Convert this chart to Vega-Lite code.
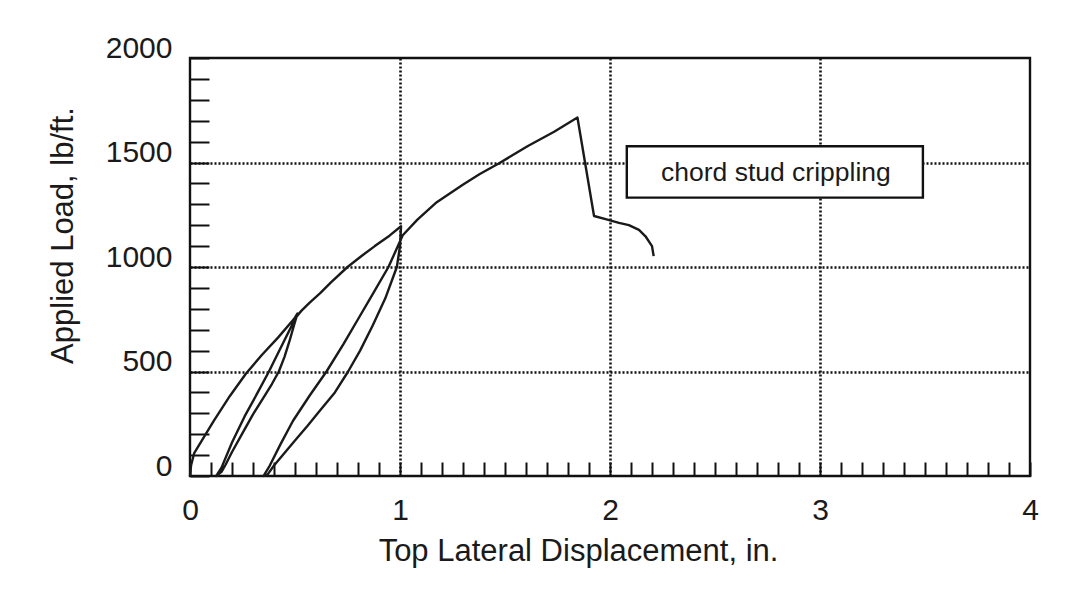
{
  "$schema": "https://vega.github.io/schema/vega-lite/v6.json",
  "width": 840,
  "height": 418,
  "autosize": "none",
  "padding": {"left": 190, "top": 58, "right": 38, "bottom": 134},
  "background": "white",
  "config": {
    "view": {"stroke": "#111", "strokeWidth": 2.4},
    "font": "Liberation Sans"
  },
  "datasets": {
    "curve": [
      {"i": 1, "d": 0, "load": 0},
      {"i": 2, "d": 0.005, "load": 50},
      {"i": 3, "d": 0.02, "load": 110},
      {"i": 4, "d": 0.09, "load": 225},
      {"i": 5, "d": 0.114, "load": 265},
      {"i": 6, "d": 0.19, "load": 383},
      {"i": 7, "d": 0.266, "load": 489},
      {"i": 8, "d": 0.342, "load": 579},
      {"i": 9, "d": 0.419, "load": 662},
      {"i": 10, "d": 0.496, "load": 752},
      {"i": 11, "d": 0.512, "load": 778},
      {"i": 12, "d": 0.495, "load": 720},
      {"i": 13, "d": 0.475, "load": 650},
      {"i": 14, "d": 0.45, "load": 570},
      {"i": 15, "d": 0.423, "load": 500},
      {"i": 16, "d": 0.39, "load": 440},
      {"i": 17, "d": 0.35, "load": 375},
      {"i": 18, "d": 0.3, "load": 295},
      {"i": 19, "d": 0.25, "load": 205},
      {"i": 20, "d": 0.2, "load": 115},
      {"i": 21, "d": 0.17, "load": 55},
      {"i": 22, "d": 0.15, "load": 20},
      {"i": 23, "d": 0.125, "load": 0},
      {"i": 24, "d": 0.15, "load": 40},
      {"i": 25, "d": 0.2, "load": 160},
      {"i": 26, "d": 0.26, "load": 285},
      {"i": 27, "d": 0.32, "load": 395},
      {"i": 28, "d": 0.376, "load": 500},
      {"i": 29, "d": 0.445, "load": 640},
      {"i": 30, "d": 0.505, "load": 760},
      {"i": 31, "d": 0.53, "load": 790},
      {"i": 32, "d": 0.57, "load": 830},
      {"i": 33, "d": 0.62, "load": 875},
      {"i": 34, "d": 0.67, "load": 925},
      {"i": 35, "d": 0.75, "load": 1000},
      {"i": 36, "d": 0.82, "load": 1055},
      {"i": 37, "d": 0.88, "load": 1100},
      {"i": 38, "d": 0.95, "load": 1150},
      {"i": 39, "d": 1.005, "load": 1195},
      {"i": 40, "d": 1.0, "load": 1100},
      {"i": 41, "d": 0.985, "load": 1000},
      {"i": 42, "d": 0.93, "load": 850},
      {"i": 43, "d": 0.87, "load": 720},
      {"i": 44, "d": 0.81, "load": 600},
      {"i": 45, "d": 0.753, "load": 500},
      {"i": 46, "d": 0.69, "load": 400},
      {"i": 47, "d": 0.62, "load": 315},
      {"i": 48, "d": 0.56, "load": 240},
      {"i": 49, "d": 0.5, "load": 170},
      {"i": 50, "d": 0.45, "load": 110},
      {"i": 51, "d": 0.4, "load": 50},
      {"i": 52, "d": 0.37, "load": 8},
      {"i": 53, "d": 0.35, "load": 0},
      {"i": 54, "d": 0.38, "load": 50},
      {"i": 55, "d": 0.43, "load": 150},
      {"i": 56, "d": 0.49, "load": 263},
      {"i": 57, "d": 0.57, "load": 385},
      {"i": 58, "d": 0.65, "load": 500},
      {"i": 59, "d": 0.73, "load": 630},
      {"i": 60, "d": 0.8, "load": 750},
      {"i": 61, "d": 0.87, "load": 870},
      {"i": 62, "d": 0.945, "load": 1000},
      {"i": 63, "d": 0.99, "load": 1100},
      {"i": 64, "d": 1.013, "load": 1152},
      {"i": 65, "d": 1.083, "load": 1227},
      {"i": 66, "d": 1.175, "load": 1310},
      {"i": 67, "d": 1.299, "load": 1394},
      {"i": 68, "d": 1.38, "load": 1445},
      {"i": 69, "d": 1.47, "load": 1495},
      {"i": 70, "d": 1.609, "load": 1579},
      {"i": 71, "d": 1.734, "load": 1647},
      {"i": 72, "d": 1.845, "load": 1715},
      {"i": 73, "d": 1.924, "load": 1244},
      {"i": 74, "d": 1.979, "load": 1229},
      {"i": 75, "d": 2.043, "load": 1211},
      {"i": 76, "d": 2.09, "load": 1200},
      {"i": 77, "d": 2.138, "load": 1178},
      {"i": 78, "d": 2.169, "load": 1147},
      {"i": 79, "d": 2.2, "load": 1100},
      {"i": 80, "d": 2.208, "load": 1052}
    ],
    "note": [
      {"d": 2.08, "d2": 3.49, "load": 1332, "load2": 1578, "tx": 2.79, "ty": 1452, "label": "chord stud crippling"}
    ]
  },
  "layer": [
    {
      "data": {"name": "curve"},
      "mark": {"type": "line", "color": "#1a1a1a", "strokeWidth": 2.4, "strokeJoin": "round"},
      "encoding": {
        "x": {
          "field": "d",
          "type": "quantitative",
          "scale": {"domain": [0, 4], "nice": false, "zero": false},
          "axis": {
            "title": "Top Lateral Displacement, in.",
            "values": [0, 0.1, 0.2, 0.3, 0.4, 0.5, 0.6, 0.7, 0.8, 0.9, 1, 1.1, 1.2, 1.3, 1.4, 1.5, 1.6, 1.7, 1.8, 1.9, 2, 2.1, 2.2, 2.3, 2.4, 2.5, 2.6, 2.7, 2.8, 2.9, 3, 3.1, 3.2, 3.3, 3.4, 3.5, 3.6, 3.7, 3.8, 3.9, 4],
            "tickCount": 200,
            "labelExpr": "datum.value % 1 === 0 ? '' + datum.value : ''",
            "labelOverlap": false,
            "labelFlush": false,
            "labelBound": false,
            "labelFontSize": 30,
            "labelColor": "#1a1a1a",
            "labelPadding": 33,
            "domain": false,
            "ticks": true,
            "tickSize": -14,
            "tickWidth": 2,
            "tickColor": "#111",
            "grid": true,
            "gridColor": "#111",
            "gridWidth": 2.6,
            "gridDash": [2, 2],
            "gridOpacity": {"condition": {"test": "datum.value % 1 === 0 && datum.value > 0 && datum.value < 4", "value": 1}, "value": 0},
            "titleFontSize": 31,
            "titleFontWeight": "normal",
            "titleColor": "#1a1a1a",
            "titleX": 388,
            "titleY": 84,
            "titleBaseline": "alphabetic",
            "titleAlign": "center"
          }
        },
        "y": {
          "field": "load",
          "type": "quantitative",
          "scale": {"domain": [0, 2000], "nice": false, "zero": true},
          "axis": {
            "title": "Applied Load, lb/ft.",
            "values": [0, 100, 200, 300, 400, 500, 600, 700, 800, 900, 1000, 1100, 1200, 1300, 1400, 1500, 1600, 1700, 1800, 1900, 2000],
            "tickCount": 200,
            "labelExpr": "datum.value % 500 === 0 ? '' + datum.value : ''",
            "labelOverlap": false,
            "labelFlush": false,
            "labelBound": false,
            "labelFontSize": 30,
            "labelColor": "#1a1a1a",
            "labelPadding": 37,
            "labelOffset": -10,
            "domain": false,
            "ticks": true,
            "tickSize": -19,
            "tickWidth": 2,
            "tickColor": "#111",
            "grid": true,
            "gridColor": "#111",
            "gridWidth": 2.6,
            "gridDash": [2, 2],
            "gridOpacity": {"condition": {"test": "datum.value % 500 === 0 && datum.value > 0 && datum.value < 2000", "value": 1}, "value": 0},
            "titleFontSize": 31,
            "titleFontWeight": "normal",
            "titleColor": "#1a1a1a",
            "titleX": -118,
            "titleY": 177,
            "titleBaseline": "alphabetic",
            "titleAlign": "center"
          }
        },
        "order": {"field": "i", "type": "quantitative"}
      }
    },
    {
      "data": {"name": "note"},
      "mark": {"type": "rect", "fill": "white", "stroke": "#111", "strokeWidth": 2.4},
      "encoding": {
        "x": {"field": "d", "type": "quantitative"},
        "x2": {"field": "d2"},
        "y": {"field": "load", "type": "quantitative"},
        "y2": {"field": "load2"}
      }
    },
    {
      "data": {"name": "note"},
      "mark": {"type": "text", "fontSize": 26.5, "color": "#1a1a1a", "align": "center", "baseline": "middle", "font": "Liberation Sans"},
      "encoding": {
        "x": {"field": "tx", "type": "quantitative"},
        "y": {"field": "ty", "type": "quantitative"},
        "text": {"field": "label"}
      }
    }
  ]
}
